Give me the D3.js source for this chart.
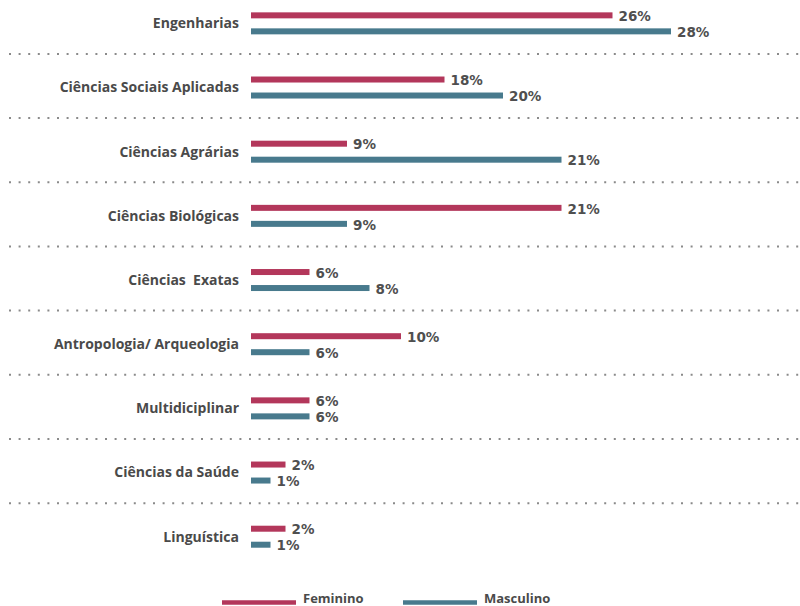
<!DOCTYPE html>
<html>
<head>
<meta charset="utf-8">
<script src="https://cdn.jsdelivr.net/npm/d3@7"></script>
<style>
  html, body { margin: 0; padding: 0; background: #fff; }
  svg { display: block; }
  .cat { white-space: pre; }
</style>
</head>
<body>
<svg id="chart" width="800" height="606"></svg>
<script>
// ---- data ----
const categories = [
  "Engenharias",
  "Ciências Sociais Aplicadas",
  "Ciências Agrárias",
  "Ciências Biológicas",
  "Ciências  Exatas",
  "Antropologia/ Arqueologia",
  "Multidiciplinar",
  "Ciências da Saúde",
  "Linguística"
];
// bar lengths as drawn in the picture (units on a linear axis)
const femininoBars  = [24.1, 12.9, 6.4, 20.7, 3.9, 10.0, 3.9, 2.3, 2.3];
const masculinoBars = [28.0, 16.8, 20.7, 6.4, 7.9, 3.9, 3.9, 1.3, 1.3];
// printed percentage labels
const femininoLabels  = ["26%", "18%", "9%", "21%", "6%", "10%", "6%", "2%", "2%"];
const masculinoLabels = ["28%", "20%", "21%", "9%", "8%", "6%", "6%", "1%", "1%"];
const seriesNames  = ["Feminino", "Masculino"];
const seriesColors = ["#b3375b", "#487a8d"];

// ---- chart ----
const svg = d3.select("#chart");
const W = 800, H = 606;

const x = d3.scaleLinear().domain([0, 28]).range([251, 671]);
const step = 64.17;
const y = d3.scaleBand().domain(categories)
  .range([23.35 - step / 2, 23.35 - step / 2 + step * categories.length])
  .paddingInner(0).paddingOuter(0);
const sub = d3.scaleBand().domain(seriesNames).range([-11, 11]).paddingInner(0.625).paddingOuter(0);
const color = d3.scaleOrdinal().domain(seriesNames).range(seriesColors);

const rows = categories.map((c, i) => ({
  cat: c,
  vals: [
    { s: seriesNames[0], v: femininoBars[i], label: femininoLabels[i] },
    { s: seriesNames[1], v: masculinoBars[i], label: masculinoLabels[i] }
  ]
}));

// dotted dividers
svg.append("g").selectAll("line")
  .data(categories.slice(0, -1))
  .join("line")
  .attr("x1", 9).attr("x2", W)
  .attr("y1", d => y(d) + y.bandwidth() - 1.5)
  .attr("y2", d => y(d) + y.bandwidth() - 1.5)
  .attr("stroke", "#8a8a8a")
  .attr("stroke-width", 2)
  .attr("stroke-dasharray", "2,7.6");

// groups
const g = svg.append("g").selectAll("g")
  .data(rows)
  .join("g")
  .attr("transform", d => `translate(0,${y(d.cat) + y.bandwidth() / 2})`);

g.append("text")
  .attr("class", "cat")
  .attr("x", 239)
  .attr("y", 0)
  .attr("dy", "0.35em")
  .attr("text-anchor", "end")
  .attr("font-family", "'Open Sans', sans-serif")
  .attr("font-weight", 700)
  .attr("font-size", 14)
  .attr("fill", "#4a4a4a")
  .text(d => d.cat);

g.selectAll("rect")
  .data(d => d.vals)
  .join("rect")
  .attr("x", x(0))
  .attr("y", d => sub(d.s))
  .attr("width", d => x(d.v) - x(0))
  .attr("height", sub.bandwidth())
  .attr("fill", d => color(d.s));

g.selectAll("text.val")
  .data(d => d.vals)
  .join("text")
  .attr("class", "val")
  .attr("x", d => x(d.v) + 6)
  .attr("y", d => sub(d.s) + sub.bandwidth() / 2 + 1)
  .attr("dy", "0.35em")
  .attr("font-family", "'DejaVu Sans', sans-serif")
  .attr("font-weight", "bold")
  .attr("font-size", 13.5)
  .attr("fill", "#4f4f4f")
  .text(d => d.label);

// legend
const legendX = [222, 403];
const lg = svg.append("g").selectAll("g")
  .data(seriesNames)
  .join("g")
  .attr("transform", (d, i) => `translate(${legendX[i]},0)`);
lg.append("line")
  .attr("x1", 0).attr("x2", 74)
  .attr("y1", 602.5).attr("y2", 602.5)
  .attr("stroke", d => color(d))
  .attr("stroke-width", 4.5);
lg.append("text")
  .attr("x", 81)
  .attr("y", 603)
  .attr("font-family", "'Open Sans', sans-serif")
  .attr("font-weight", 700)
  .attr("font-size", 13)
  .attr("fill", "#4a4a4a")
  .text(d => d);
</script>
</body>
</html>
